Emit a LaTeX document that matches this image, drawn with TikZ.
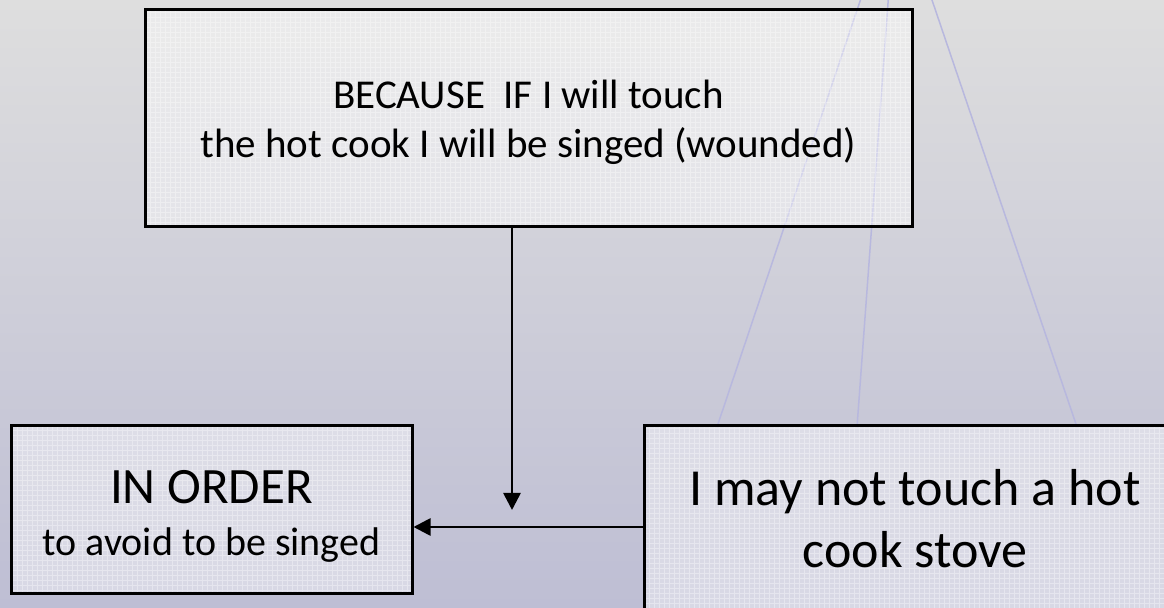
\documentclass[tikz,border=0pt]{standalone}
\usepackage{fontspec}
\setmainfont{Carlito}
\usetikzlibrary{arrows.meta}
\definecolor{bgtop}{RGB}{222,222,222}
\definecolor{bgbot}{RGB}{190,190,212}
\definecolor{rayc}{RGB}{184,184,222}
\tikzset{
  box/.style={draw=black, line width=1.5pt, fill=white, fill opacity=0.4, text opacity=1, inner sep=0pt, align=center,
    path picture={\draw[white, opacity=0.35, line width=0.25pt] (path picture bounding box.south west) grid[step=2.5pt] (path picture bounding box.north east);}},
  ray/.style={draw=rayc, line width=0.75pt},
  conn/.style={draw=black, line width=1.35pt, -{Triangle[length=8.5pt,width=8.5pt]}}
}
\begin{document}
\begin{tikzpicture}[x=0.5pt,y=-0.5pt]
\useasboundingbox (0,0) rectangle (1164,608);
\clip (0,0) rectangle (1164,608);
\shade[top color=bgtop, bottom color=bgbot] (0,0) rectangle (1164,608);
% rays
\coordinate (apex) at (896,-106);
\coordinate (r1) at (717,427);
\coordinate (r2) at (857,427);
\coordinate (r3) at (1077,427);
\draw[ray] (apex) -- (r1);
\draw[ray] (apex) -- (r2);
\draw[ray] (apex) -- (r3);
% boxes
\node[box, minimum width=383.5pt, minimum height=108.5pt, font=\fontsize{20.5}{24.5}\selectfont] (because) at (528.5,118.5)
  {\rule{0pt}{18pt}BECAUSE\ \ IF I will touch\\the hot cook I will be singed (wounded)};
\node[box, minimum width=200.5pt, minimum height=84pt, font=\fontsize{20}{26}\selectfont] (order) at (211.5,510)
  {\rule{0pt}{23pt}{\fontsize{25.5}{26}\selectfont IN ORDER}\\to avoid to be singed};
\node[box, minimum width=271pt, minimum height=93pt, font=\fontsize{26}{31}\selectfont] (stove) at (915,519)
  {I may not touch a hot\\cook stove};
% connectors
\coordinate (vtop) at (512,227);
\coordinate (vend) at (512,510);
\coordinate (hr) at (644,527);
\coordinate (hl) at (412,527);
\draw[conn] (vtop) -- (vend);
\draw[conn] (stove.west |- hr) -- (order.east |- hl);
\end{tikzpicture}
\end{document}
